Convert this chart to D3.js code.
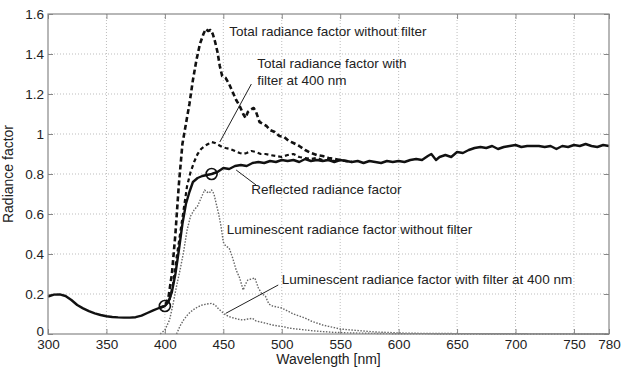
<!DOCTYPE html>
<html>
<head>
<meta charset="utf-8">
<script src="https://cdn.jsdelivr.net/npm/d3@7"></script>
<style>
  body { margin: 0; background: #fff; }
  text { font-family: "Liberation Sans", Arial, sans-serif; fill: #222; }
</style>
</head>
<body>
<svg id="chart" width="621" height="367"></svg>
<script>
// wavelength [nm], radiance factor
const reflected = [
  [300, 0.187], [305, 0.197], [310, 0.198], [315, 0.19], [320, 0.17], [325, 0.145], [330, 0.128],
  [335, 0.114], [340, 0.103], [345, 0.095], [350, 0.089], [355, 0.085], [360, 0.083], [365, 0.082],
  [370, 0.082], [375, 0.084], [380, 0.092], [385, 0.105], [390, 0.118], [395, 0.13], [400, 0.14],
  [403, 0.16], [406, 0.21], [409, 0.3], [412, 0.42], [415, 0.55], [418, 0.65], [421, 0.71],
  [424, 0.76], [428, 0.78], [432, 0.79], [436, 0.795], [440, 0.80], [445, 0.81], [450, 0.83],
  [455, 0.825], [460, 0.84], [465, 0.845], [470, 0.84], [475, 0.855], [480, 0.86], [485, 0.855],
  [490, 0.865], [495, 0.86], [500, 0.87], [505, 0.865], [510, 0.87], [515, 0.86], [520, 0.875],
  [525, 0.865], [530, 0.87], [535, 0.865], [540, 0.87], [545, 0.86], [550, 0.87], [555, 0.865],
  [560, 0.86], [565, 0.865], [570, 0.855], [575, 0.865], [580, 0.86], [585, 0.855], [590, 0.865],
  [595, 0.86], [600, 0.865], [605, 0.86], [610, 0.87], [615, 0.875], [620, 0.87], [625, 0.89],
  [628, 0.9], [632, 0.87], [635, 0.885], [640, 0.895], [645, 0.885], [650, 0.91], [655, 0.905],
  [660, 0.92], [665, 0.93], [670, 0.935], [675, 0.93], [680, 0.94], [685, 0.925], [690, 0.935],
  [695, 0.94], [700, 0.945], [705, 0.935], [710, 0.94], [715, 0.94], [720, 0.94], [725, 0.935],
  [730, 0.94], [735, 0.925], [740, 0.94], [745, 0.935], [750, 0.945], [755, 0.94], [760, 0.95],
  [765, 0.94], [770, 0.935], [775, 0.945], [780, 0.94]
];

const totalNoFilter = [
  [395, 0.13], [400, 0.14], [403, 0.18], [406, 0.3], [409, 0.5], [412, 0.75], [415, 0.95],
  [418, 1.05], [421, 1.15], [424, 1.27], [427, 1.37], [430, 1.45], [433, 1.50], [435, 1.525],
  [437, 1.515], [439, 1.52], [441, 1.50], [443, 1.46], [445, 1.41], [447, 1.34], [449, 1.29],
  [452, 1.28], [455, 1.25], [458, 1.21], [461, 1.17], [464, 1.14], [467, 1.10], [469, 1.08],
  [471, 1.11], [473, 1.12], [476, 1.13], [478, 1.11], [481, 1.06], [484, 1.05], [487, 1.04],
  [490, 1.02], [494, 1.01], [498, 0.99], [502, 0.985], [506, 0.965], [510, 0.955], [515, 0.94],
  [520, 0.92], [525, 0.905], [530, 0.895], [535, 0.89], [540, 0.88], [545, 0.875], [550, 0.87],
  [555, 0.865], [560, 0.86]
];

const totalFilter = [
  [395, 0.13], [400, 0.14], [404, 0.17], [407, 0.25], [410, 0.38], [413, 0.5], [416, 0.62],
  [419, 0.74], [422, 0.81], [425, 0.86], [428, 0.9], [431, 0.925], [434, 0.94], [437, 0.95],
  [440, 0.96], [443, 0.955], [446, 0.945], [449, 0.935], [452, 0.93], [456, 0.925], [460, 0.915],
  [464, 0.905], [467, 0.9], [470, 0.905], [474, 0.915], [478, 0.91], [482, 0.9], [486, 0.9],
  [490, 0.895], [495, 0.89], [500, 0.885], [505, 0.895], [510, 0.9], [515, 0.885], [520, 0.88],
  [525, 0.875], [530, 0.88], [535, 0.87], [540, 0.87], [545, 0.865], [550, 0.87]
];

const lumNoFilter = [
  [396, 0], [400, 0.02], [404, 0.07], [407, 0.15], [410, 0.24], [413, 0.32], [416, 0.41],
  [419, 0.52], [422, 0.59], [425, 0.62], [428, 0.64], [431, 0.68], [434, 0.72], [436, 0.71],
  [438, 0.705], [440, 0.72], [442, 0.70], [444, 0.65], [446, 0.6], [448, 0.54], [450, 0.46],
  [452, 0.44], [455, 0.43], [458, 0.38], [461, 0.32], [464, 0.28], [467, 0.22], [469, 0.25],
  [471, 0.27], [474, 0.275], [477, 0.28], [480, 0.23], [483, 0.2], [486, 0.19], [489, 0.15],
  [492, 0.14], [496, 0.135], [500, 0.13], [505, 0.115], [510, 0.10], [515, 0.09], [520, 0.08],
  [525, 0.065], [530, 0.055], [535, 0.045], [540, 0.038], [545, 0.032], [550, 0.025], [560, 0.02],
  [570, 0.015], [580, 0.01], [590, 0.008], [600, 0.005], [620, 0.003], [650, 0.002], [700, 0.001],
  [780, 0]
];

const lumFilter = [
  [410, 0], [413, 0.04], [416, 0.07], [420, 0.1], [424, 0.12], [428, 0.135], [432, 0.145],
  [436, 0.15], [440, 0.153], [443, 0.145], [446, 0.125], [449, 0.11], [452, 0.095], [456, 0.085],
  [460, 0.078], [464, 0.072], [467, 0.07], [471, 0.075], [475, 0.078], [478, 0.065], [482, 0.06],
  [487, 0.053], [492, 0.045], [497, 0.04], [501, 0.037], [506, 0.03], [511, 0.026], [516, 0.023],
  [525, 0.017], [535, 0.012], [545, 0.008], [560, 0.005], [580, 0.003], [600, 0.001], [650, 0],
  [780, 0]
];

const xTicks = [300, 350, 400, 450, 500, 550, 600, 650, 700, 750, 780];
const yTicks = [0, 0.2, 0.4, 0.6, 0.8, 1, 1.2, 1.4, 1.6];

// circled points on the reflected curve
const markers = [[400, 0.14], [440, 0.80]];

// annotations: text lines, anchor in data units; leader lines from/to in data units
const notes = [
  { lines: ['Total radiance factor without filter'], at: [455, 1.49] },
  { lines: ['Total radiance factor with', 'filter at 400 nm'], at: [479, 1.33] },
  { lines: ['Reflected radiance factor'], at: [474, 0.70] },
  { lines: ['Luminescent radiance factor without filter'], at: [453, 0.50] },
  { lines: ['Luminescent radiance factor with filter at 400 nm'], at: [500, 0.25] }
];
const leaders = [
  [[474, 1.25], [447, 0.96]],
  [[461, 0.82], [478, 0.745]],
  [[497, 0.245], [452, 0.103]]
];

const margin = { top: 14, right: 12, bottom: 33, left: 48 };
const width = 621 - margin.left - margin.right;
const height = 367 - margin.top - margin.bottom;

const svg = d3.select('#chart');
const g = svg.append('g').attr('transform', 'translate(' + margin.left + ',' + margin.top + ')');

const x = d3.scaleLinear().domain([300, 780]).range([0, width]);
const y = d3.scaleLinear().domain([0, 1.6]).range([height, 0]);

// grid
g.append('g').selectAll('line').data(xTicks.slice(1, -1)).enter().append('line')
  .attr('x1', d => x(d)).attr('x2', d => x(d)).attr('y1', 0).attr('y2', height)
  .attr('stroke', '#bdbdbd').attr('stroke-width', 1).attr('stroke-dasharray', '1,2');
g.append('g').selectAll('line').data(yTicks.slice(1, -1)).enter().append('line')
  .attr('y1', d => y(d)).attr('y2', d => y(d)).attr('x1', 0).attr('x2', width)
  .attr('stroke', '#bdbdbd').attr('stroke-width', 1).attr('stroke-dasharray', '1,2');

// axes (MATLAB-style inward ticks on all sides)
const axisColor = '#888';
function styleAxis(sel) {
  sel.select('.domain').remove();
  sel.selectAll('.tick line').attr('stroke', axisColor).attr('stroke-width', 1);
  sel.selectAll('.tick text').style('font-size', '13.5px').attr('fill', '#222');
}
g.append('g').attr('transform', 'translate(0,' + height + ')')
  .call(d3.axisBottom(x).tickValues(xTicks).tickSize(-5).tickPadding(5).tickFormat(d3.format('d')))
  .call(styleAxis);
g.append('g')
  .call(d3.axisTop(x).tickValues(xTicks).tickSize(-5).tickFormat(''))
  .call(styleAxis);
const yAxis = g.append('g')
  .call(d3.axisLeft(y).tickValues(yTicks).tickSize(-5).tickPadding(4).tickFormat(d => d3.format('~g')(d)))
  .call(styleAxis);
// lift the "0" label a little so it clears the "300" below it
yAxis.selectAll('.tick text').filter(d => d === 0).attr('dy', '0.1em');
g.append('g').attr('transform', 'translate(' + width + ',0)')
  .call(d3.axisRight(y).tickValues(yTicks).tickSize(-5).tickFormat(''))
  .call(styleAxis);

const line = d3.line().x(d => x(d[0])).y(d => y(d[1]));

const series = [
  { data: lumNoFilter, stroke: '#666', width: 1.4, dash: '1.5,1.5' },
  { data: lumFilter, stroke: '#666', width: 1.4, dash: '1.5,1.5' },
  { data: totalFilter, stroke: '#111', width: 2.2, dash: '4,3' },
  { data: totalNoFilter, stroke: '#111', width: 2.6, dash: '5,3' },
  { data: reflected, stroke: '#111', width: 2.4, dash: null }
];
g.selectAll('.series').data(series).enter().append('path')
  .attr('class', 'series')
  .attr('d', d => line(d.data))
  .attr('fill', 'none')
  .attr('stroke', d => d.stroke)
  .attr('stroke-width', d => d.width)
  .attr('stroke-linejoin', 'round')
  .attr('stroke-dasharray', d => d.dash);

g.selectAll('.marker').data(markers).enter().append('circle')
  .attr('class', 'marker')
  .attr('cx', d => x(d[0])).attr('cy', d => y(d[1])).attr('r', 5.5)
  .attr('fill', 'none').attr('stroke', '#111').attr('stroke-width', 1.6);

// box
g.append('rect').attr('width', width).attr('height', height)
  .attr('fill', 'none').attr('stroke', axisColor).attr('stroke-width', 1.2);

// leader lines and annotation text
g.selectAll('.leader').data(leaders).enter().append('line')
  .attr('x1', d => x(d[0][0])).attr('y1', d => y(d[0][1]))
  .attr('x2', d => x(d[1][0])).attr('y2', d => y(d[1][1]))
  .attr('stroke', '#222').attr('stroke-width', 1);

const noteText = g.selectAll('.note').data(notes).enter().append('text')
  .attr('class', 'note')
  .attr('x', d => x(d.at[0])).attr('y', d => y(d.at[1]))
  .style('font-size', '13.5px');
noteText.selectAll('tspan').data(d => d.lines.map((t, i) => ({ t: t, i: i, x: x(d.at[0]) }))).enter()
  .append('tspan')
  .attr('x', d => d.x).attr('dy', d => d.i === 0 ? 0 : 16.5)
  .text(d => d.t);

// axis titles
g.append('text').attr('x', width / 2).attr('y', height + 30)
  .attr('text-anchor', 'middle').style('font-size', '14px').text('Wavelength [nm]');
g.append('text').attr('transform', 'translate(' + (-35) + ',' + (height / 2) + ') rotate(-90)')
  .attr('text-anchor', 'middle').style('font-size', '14px').text('Radiance factor');
</script>
</body>
</html>
